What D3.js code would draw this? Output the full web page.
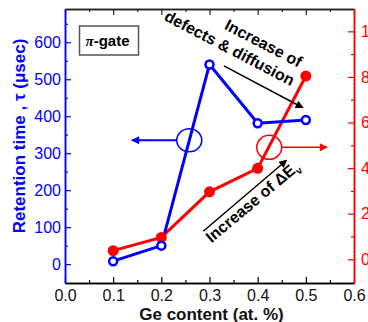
<!DOCTYPE html>
<html>
<head>
<meta charset="utf-8">
<script src="https://cdn.jsdelivr.net/npm/d3@7/dist/d3.min.js"></script>
<style>
  html, body { margin: 0; padding: 0; background: #fff; }
  svg { display: block; font-family: "Liberation Sans", Arial, sans-serif; }
</style>
</head>
<body>
<svg id="chart" width="368" height="322"></svg>
<script>
// Ge content (at. %) for each sample
const geContent = [0.1, 0.2, 0.3, 0.4, 0.5];
// Retention time tau (usec), left axis
const retentionTime = [8, 50, 540, 381, 390];
// Valence band offset, right axis
const deltaEv = [0.38, 0.96, 2.96, 3.99, 8.04];

const xTicks = [0, 0.1, 0.2, 0.3, 0.4, 0.5, 0.6];
const xMinorTicks = [0.05, 0.15, 0.25, 0.35, 0.45, 0.55];
const leftTicks = [0, 100, 200, 300, 400, 500, 600];
const leftMinorTicks = [50, 150, 250, 350, 450, 550, 650];
const rightTicks = [0, 2, 4, 6, 8, 10];
const rightMinorTicks = [1, 3, 5, 7, 9];

const BLUE = "#0000ff";
const RED = "#ff0000";

const svg = d3.select("#chart");
const plot = { left: 65, right: 354, top: 9, bottom: 283 };

const x = d3.scaleLinear().domain([0, 0.6]).range([plot.left, plot.right]);
const yL = d3.scaleLinear().domain([-51, 690]).range([plot.bottom, plot.top]);
const yR = d3.scaleLinear().domain([-1.04, 10.98]).range([plot.bottom, plot.top]);

// arrowheads
const defs = svg.append("defs");
[["head-black", "#000"], ["head-blue", BLUE], ["head-red", RED]].forEach(([id, c]) => {
  defs.append("marker")
    .attr("id", id)
    .attr("viewBox", "0 0 10 10")
    .attr("refX", 9).attr("refY", 5)
    .attr("markerUnits", "userSpaceOnUse")
    .attr("markerWidth", 10).attr("markerHeight", 8)
    .attr("orient", "auto")
    .append("path").attr("d", "M0,0 L10,5 L0,10 Z").attr("fill", c);
});

// ---- axes ----
function styleAxis(g, color, width) {
  g.select(".domain").attr("stroke", color).attr("stroke-width", width);
  g.selectAll(".tick line").attr("stroke", color).attr("stroke-width", 1.2);
  g.selectAll(".tick text").attr("fill", color).attr("font-size", 16);
}

// bottom
const gx = svg.append("g").attr("transform", `translate(0,${plot.bottom})`)
  .call(d3.axisBottom(x).tickValues(xTicks).tickFormat(d3.format(".1f"))
    .tickSize(-6).tickSizeOuter(0).tickPadding(7));
styleAxis(gx, "#000", 1.5);
gx.selectAll(".tick text").attr("fill", "#111");
const gxm = svg.append("g").attr("transform", `translate(0,${plot.bottom})`)
  .call(d3.axisBottom(x).tickValues(xMinorTicks).tickFormat("").tickSize(-3).tickSizeOuter(0));
styleAxis(gxm, "#000", 1.5);

// top
const gt = svg.append("g").attr("transform", `translate(0,${plot.top})`)
  .call(d3.axisTop(x).tickValues(xTicks).tickFormat("").tickSize(-6).tickSizeOuter(0));
styleAxis(gt, "#222", 1.5);
const gtm = svg.append("g").attr("transform", `translate(0,${plot.top})`)
  .call(d3.axisTop(x).tickValues(xMinorTicks).tickFormat("").tickSize(-3).tickSizeOuter(0));
styleAxis(gtm, "#222", 1.5);

// left
const gl = svg.append("g").attr("transform", `translate(${plot.left},0)`)
  .call(d3.axisLeft(yL).tickValues(leftTicks).tickSize(-6).tickSizeOuter(0).tickPadding(4));
styleAxis(gl, BLUE, 1.5);
const glm = svg.append("g").attr("transform", `translate(${plot.left},0)`)
  .call(d3.axisLeft(yL).tickValues(leftMinorTicks).tickFormat("").tickSize(-3).tickSizeOuter(0));
styleAxis(glm, BLUE, 1.5);

// right
const gr = svg.append("g").attr("transform", `translate(${plot.right},0)`)
  .call(d3.axisRight(yR).tickValues(rightTicks).tickSize(-6).tickSizeOuter(0).tickPadding(7));
styleAxis(gr, RED, 1.5);
const grm = svg.append("g").attr("transform", `translate(${plot.right},0)`)
  .call(d3.axisRight(yR).tickValues(rightMinorTicks).tickFormat("").tickSize(-3).tickSizeOuter(0));
styleAxis(grm, RED, 1.5);

// axis titles
svg.append("text")
  .attr("transform", `translate(25,${(plot.top + plot.bottom) / 2 - 10}) rotate(-90)`)
  .attr("text-anchor", "middle").attr("font-size", 17).attr("font-weight", "bold")
  .attr("fill", BLUE)
  .text("Retention time , τ (μsec)");

svg.append("text")
  .attr("x", (plot.left + plot.right) / 2 + 2).attr("y", 320)
  .attr("text-anchor", "middle").attr("font-size", 17).attr("font-weight", "bold")
  .attr("fill", "#111")
  .text("Ge content (at. %)");

// ---- series ----
const retPts = geContent.map((g, i) => [x(g), yL(retentionTime[i])]);
const evPts = geContent.map((g, i) => [x(g), yR(deltaEv[i])]);

svg.append("path").attr("d", d3.line()(evPts))
  .attr("fill", "none").attr("stroke", RED).attr("stroke-width", 3);
svg.append("path").attr("d", d3.line()(retPts))
  .attr("fill", "none").attr("stroke", BLUE).attr("stroke-width", 3);

svg.selectAll("circle.ev").data(evPts).join("circle").attr("class", "ev")
  .attr("cx", d => d[0]).attr("cy", d => d[1]).attr("r", 5.5).attr("fill", RED);
svg.selectAll("circle.ret").data(retPts).join("circle").attr("class", "ret")
  .attr("cx", d => d[0]).attr("cy", d => d[1]).attr("r", 4)
  .attr("fill", "#fff").attr("stroke", BLUE).attr("stroke-width", 2.5);

// ---- axis pointers ----
svg.append("ellipse")
  .attr("cx", x(0.258)).attr("cy", yL(335)).attr("rx", 12.5).attr("ry", 11.5)
  .attr("fill", "none").attr("stroke", BLUE).attr("stroke-width", 1.5);
svg.append("line")
  .attr("x1", x(0.258) - 12.5).attr("y1", yL(335)).attr("x2", x(0.139)).attr("y2", yL(335))
  .attr("stroke", BLUE).attr("stroke-width", 2).attr("marker-end", "url(#head-blue)");

svg.append("ellipse")
  .attr("cx", x(0.424)).attr("cy", yR(4.91)).attr("rx", 12.5).attr("ry", 12)
  .attr("fill", "none").attr("stroke", RED).attr("stroke-width", 1.5);
svg.append("line")
  .attr("x1", x(0.424) + 12.5).attr("y1", yR(4.91)).attr("x2", x(0.544)).attr("y2", yR(4.91))
  .attr("stroke", RED).attr("stroke-width", 1.5).attr("marker-end", "url(#head-red)");

// ---- trend annotations ----
svg.append("line")
  .attr("x1", x(0.330)).attr("y1", yL(536)).attr("x2", x(0.494)).attr("y2", yL(423))
  .attr("stroke", "#000").attr("stroke-width", 1.5).attr("marker-end", "url(#head-black)");
const note1 = svg.append("g")
  .attr("transform", `translate(${x(0.469)},${yL(481)}) rotate(27.5)`)
  .attr("font-size", 16).attr("font-weight", "bold").attr("text-anchor", "end").attr("fill", "#000");
note1.append("text").attr("x", -2).attr("y", -20).text("Increase of");
note1.append("text").attr("x", 0).attr("y", 0).text("defects & diffusion");

svg.append("line")
  .attr("x1", x(0.287)).attr("y1", yL(89)).attr("x2", x(0.460)).attr("y2", yL(281))
  .attr("stroke", "#000").attr("stroke-width", 1.5).attr("marker-end", "url(#head-black)");
const note2 = svg.append("text")
  .attr("transform", `translate(${x(0.304)},${yL(56)}) rotate(-40)`)
  .attr("font-size", 16).attr("font-weight", "bold").attr("fill", "#000");
note2.append("tspan").text("Increase of ΔE");
note2.append("tspan").attr("font-size", 10).attr("dy", 4).text("v");

// ---- sample label ----
const box = svg.append("g").attr("transform", `translate(${plot.left + 14.5},${plot.top + 17})`);
box.append("rect").attr("width", 59).attr("height", 29)
  .attr("fill", "#fff").attr("stroke", "#555").attr("stroke-width", 1.5);
const lbl = box.append("text").attr("x", 6).attr("y", 20)
  .attr("font-size", 15).attr("font-weight", "bold").attr("fill", "#000");
lbl.append("tspan").attr("font-family", "'Liberation Serif', serif").attr("font-style", "italic").text("π");
lbl.append("tspan").text("-gate");
</script>
</body>
</html>
